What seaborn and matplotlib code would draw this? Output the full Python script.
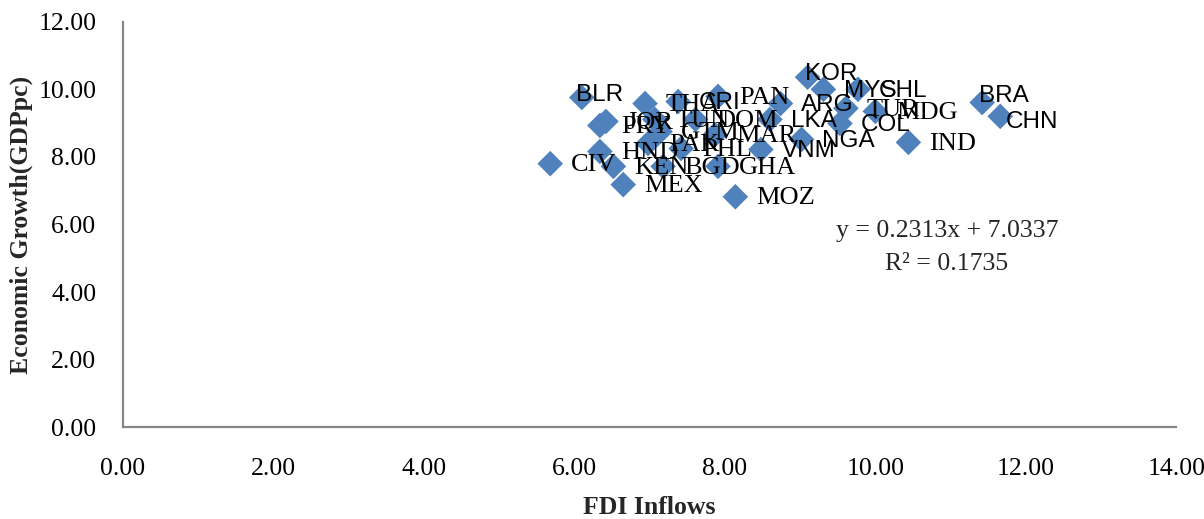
import pandas as pd
import matplotlib
matplotlib.use("Agg")
import matplotlib.pyplot as plt
import seaborn as sns

# country codes, FDI inflows (x) and growth (y)
codes = ["CIV", "MEX", "MOZ", "BLR", "PRY", "THA", "CRI", "PAN", "JOR", "TUN",
         "DOM", "GTM", "MAR", "HND", "PAK", "PHL", "KEN", "BGD", "GHA", "KOR",
         "MYS", "CHL", "ARG", "TUR", "MDG", "LKA", "COL", "NGA", "VNM", "IND",
         "BRA", "CHN"]
fdi = [5.68, 6.65, 8.14, 6.10, 6.34, 6.94, 7.38, 7.91, 6.42, 7.07,
       7.61, 7.14, 7.87, 6.34, 6.98, 7.42, 6.52, 7.18, 7.91, 9.10,
       9.31, 9.77, 8.74, 9.61, 10.00, 8.60, 9.53, 9.02, 8.48, 10.44,
       11.42, 11.66]
growth = [7.80, 7.18, 6.82, 9.76, 8.93, 9.58, 9.64, 9.79, 9.05, 9.11,
          9.11, 8.75, 8.66, 8.16, 8.40, 8.25, 7.72, 7.72, 7.72, 10.36,
          10.00, 10.00, 9.58, 9.44, 9.35, 9.11, 8.99, 8.52, 8.22, 8.43,
          9.61, 9.20]

eq_text = "y = 0.2313x + 7.0337"
r2_text = "R² = 0.1735"

df = pd.DataFrame({"code": codes, "FDI Inflows": fdi, "Growth": growth})

sns.set_style("white")
plt.rcParams["font.family"] = ["Liberation Serif", "DejaVu Serif"]

fig = plt.figure(figsize=(12.04, 5.19), dpi=100)
ax = fig.add_axes([0.102, 0.177, 0.875, 0.781])

sns.scatterplot(data=df, x="FDI Inflows", y="Growth", marker="D", s=170,
                color="#4F81BD", edgecolor="none", linewidth=0, ax=ax, zorder=3)

# labels: most sit to the right of the marker, a few were dragged
offsets = {"BLR": (-4, 2), "KOR": (-2, 2), "BRA": (-2, 5), "CHN": (4, -4)}
sans_codes = {"BLR", "KOR", "MYS", "CHL", "ARG", "LKA", "NGA", "COL", "BRA",
              "CHN", "VNM", "CRI"}
for c, x, y in zip(codes, fdi, growth):
    off = offsets.get(c, (15, -1))
    fam = "Liberation Sans" if c in sans_codes else "Liberation Serif"
    size = 17.5 if c in sans_codes else 19
    ax.annotate(c, (x, y), xytext=off, textcoords="offset points",
                ha="left", va="center", fontsize=size, family=fam,
                color="black", zorder=4)

ax.text(10.95, 5.8, eq_text, ha="center", va="center", fontsize=18.5)
ax.text(10.95, 4.82, r2_text, ha="center", va="center", fontsize=18.5)

ax.set_xlim(0, 14)
ax.set_ylim(0, 12)
ax.set_xticks(range(0, 15, 2))
ax.set_yticks(range(0, 13, 2))
ax.xaxis.set_major_formatter(matplotlib.ticker.FormatStrFormatter("%.2f"))
ax.yaxis.set_major_formatter(matplotlib.ticker.FormatStrFormatter("%.2f"))

for side in ["top", "right"]:
    ax.spines[side].set_visible(False)
for side in ["left", "bottom"]:
    ax.spines[side].set_color("#868686")
    ax.spines[side].set_linewidth(1.6)
ax.tick_params(axis="both", direction="out", length=6, width=1.6,
               color="#868686", labelsize=18.5, labelcolor="black")
ax.tick_params(axis="x", pad=16)
ax.tick_params(axis="y", pad=13)

ax.set_xlabel("FDI Inflows", fontsize=18.5, fontweight="bold", labelpad=12)
ax.set_ylabel("Economic Growth(GDPpc)", fontsize=18.5, fontweight="bold",
              labelpad=4)

fig.savefig("out.png", dpi=100)
